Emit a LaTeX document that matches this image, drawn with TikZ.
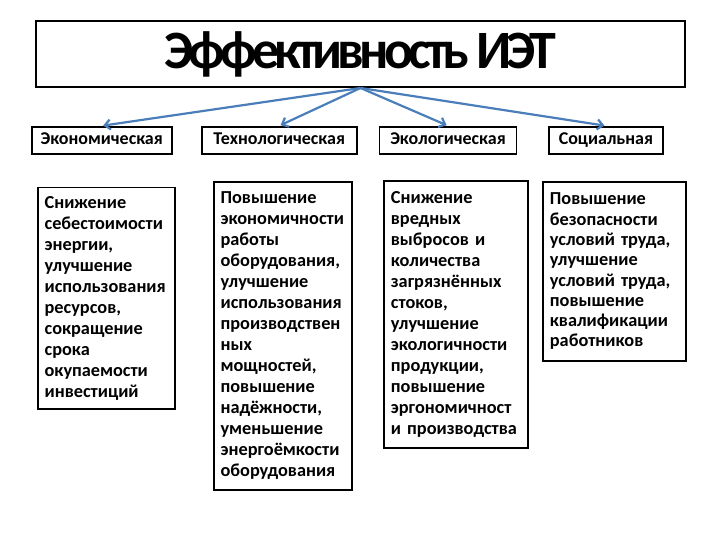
\documentclass[tikz,border=0pt]{standalone}
\usepackage{fontspec}
\setmainfont{Carlito}
\newfontfamily\titlefont[LetterSpace=-9]{Carlito}
\usetikzlibrary{positioning,arrows.meta}
\definecolor{IETBlue}{HTML}{4A7EBB}
\begin{document}
\begin{tikzpicture}[x=1pt,y=-1pt,>={Straight Barb[length=5.5pt,width=10pt]}]
  \tikzstyle{headbox}=[draw=black,line width=2pt,minimum width=649pt,minimum height=66pt,
    font=\titlefont\bfseries\fontsize{54}{60}\selectfont]
  \tikzstyle{kindbox}=[draw=black,line width=1.8pt,minimum height=27pt,inner sep=2pt,
    text height=11pt,text depth=3pt,font=\bfseries\fontsize{18}{20}\selectfont]
  \tikzstyle{detailbox}=[draw=black,line width=1.8pt,anchor=north west,align=left,
    inner xsep=7pt,inner ysep=6pt,font=\bfseries\fontsize{18.3}{21}\selectfont]
  \useasboundingbox (0,0) rectangle (720,540);
  \node[headbox] (title) at (360.5,54) {Эффективность ИЭТ};
  \node[kindbox,minimum width=140pt] (econ) at (101.7,140.2) {Экономическая};
  \node[kindbox,minimum width=155pt] (tech) at (279.2,140.2) {Технологическая};
  \node[kindbox,minimum width=137pt] (ecol) at (448,140.2) {Экологическая};
  \node[kindbox,minimum width=114pt] (soc) at (605.9,140.2) {Социальная};
  \foreach \k in {econ,tech,ecol,soc}
    \draw[->,line width=2.2pt,color=IETBlue,shorten >=1.5pt] (title.south)--(\k.north);
  % the four lists of effects
  \node[detailbox,text width=123pt,minimum height=221pt] (econtext) at (36.7,186.7)
    {Снижение\\себестоимости\\энергии,\\улучшение\\использования\\ресурсов,\\сокращение\\срока\\окупаемости\\инвестиций};
  \node[detailbox,text width=124pt,minimum height=308pt] (techtext) at (212.7,181)
    {Повышение\\экономичности\\работы\\оборудования,\\улучшение\\использования\\производствен\\ных\\мощностей,\\повышение\\надёжности,\\уменьшение\\энергоёмкости\\оборудования};
  \node[detailbox,text width=130pt,minimum height=267pt] (ecoltext) at (383,180)
    {Снижение\\вредных\\выбросов~и\\количества\\загрязнённых\\стоков,\\улучшение\\экологичности\\продукции,\\повышение\\эргономичност\\и~производства};
  \node[detailbox,text width=129pt,minimum height=179pt,
    font=\bfseries\fontsize{18.3}{20.3}\selectfont] (soctext) at (542,181)
    {Повышение\\безопасности\\условий~труда,\\улучшение\\условий~труда,\\повышение\\квалификации\\работников};
\end{tikzpicture}
\end{document}
